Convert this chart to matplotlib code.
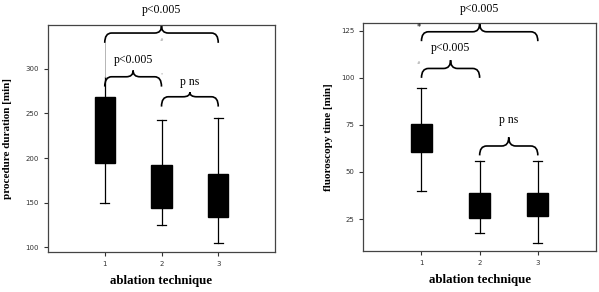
import matplotlib
matplotlib.use("Agg")
import matplotlib.pyplot as plt
from matplotlib.path import Path
from matplotlib.patches import PathPatch

# datos
grupos = [1, 2, 3]

# duracion del procedimiento [min]
dur_q1 = [194.7, 144.3, 133.9]
dur_q3 = [268.6, 192.2, 182.4]
dur_lo = [149.6, 124.5, 104.4]
dur_hi = [291.0, 242.5, 244.4]

# tiempo de fluoroscopia [min]
flu_q1 = [60.5, 25.4, 26.5]
flu_q3 = [75.5, 38.9, 38.9]
flu_lo = [39.8, 17.8, 12.0]
flu_hi = [94.4, 55.7, 55.7]

# llaves de significancia: (desde, hasta, nivel, texto)
dur_llaves = [(1, 3, 340, "p<0.005"), (1, 2, 291, "p<0.005"), (2, 3, 268.6, "p ns")]
flu_llaves = [(1, 3, 124.5, "p<0.005"), (1, 2, 105, "p<0.005"), (2, 3, 63.8, "p ns")]

serif = "Liberation Serif"


def stats(q1, q3, lo, hi):
    out = []
    for i in range(len(q1)):
        out.append({"med": (q1[i] + q3[i]) / 2, "q1": q1[i], "q3": q3[i],
                    "whislo": lo[i], "whishi": hi[i], "fliers": []})
    return out


def llave(ax, x0, x1, yb, curl, peak, txt, ytxt, r=0.12):
    xm = (x0 + x1) / 2
    ye = yb - curl
    yp = yb + peak
    verts = [(x0, ye), (x0, yb), (x0 + r, yb), (xm - r, yb), (xm, yb), (xm, yp),
             (xm, yb), (xm + r, yb), (x1 - r, yb), (x1, yb), (x1, ye)]
    codes = [Path.MOVETO, Path.CURVE3, Path.CURVE3, Path.LINETO, Path.CURVE3, Path.CURVE3,
             Path.CURVE3, Path.CURVE3, Path.LINETO, Path.CURVE3, Path.CURVE3]
    ax.add_patch(PathPatch(Path(verts, codes), fill=False, lw=1.2, color="black", clip_on=False))
    ax.text(xm, ytxt, txt, ha="center", va="center", fontsize=8.5, family=serif, clip_on=False)


def panel(ax, st, ylim, yticks, ylabel, ylx):
    res = ax.bxp(st, positions=grupos, widths=0.36, patch_artist=True, showfliers=False,
                 boxprops=dict(facecolor="black", edgecolor="black"),
                 medianprops=dict(color="black"),
                 whiskerprops=dict(color="black", lw=0.9),
                 capprops=dict(color="black", lw=0.9), capwidths=0.15)
    ax.set_xlim(0, 4)
    ax.set_ylim(*ylim)
    ax.set_yticks(yticks)
    ax.set_xticks(grupos)
    ax.tick_params(labelsize=5, colors="#333333", length=3, width=0.8)
    for s in ax.spines.values():
        s.set_color("#444444")
        s.set_linewidth(0.9)
    ax.set_xlabel("ablation technique", family=serif, weight="bold", fontsize=9.3)
    ax.xaxis.set_label_coords(0.5, -0.1)
    ax.set_ylabel(ylabel, family=serif, weight="bold", fontsize=8)
    ax.yaxis.set_label_coords(ylx, 0.5)
    return res


fig = plt.figure(figsize=(5.99, 2.92), dpi=100)

ax1 = fig.add_axes([48 / 599, 40 / 292, 227 / 599, 227 / 292])
r1 = panel(ax1, stats(dur_q1, dur_q3, dur_lo, dur_hi), (94.7, 349), [100, 150, 200, 250, 300],
           "procedure duration [min]", -0.16)
r1["caps"][1].set_visible(False)
ax1.plot([1, 1], [dur_hi[0], 329], color="#aaaaaa", lw=0.6)
d = dur_llaves
llave(ax1, d[0][0], d[0][1], d[0][2], 11, 8, d[0][3], 366)
llave(ax1, d[1][0], d[1][1], d[1][2], 11, 7, d[1][3], 310)
llave(ax1, d[2][0], d[2][1], d[2][2], 11, 5, d[2][3], 285)
ax1.text(2, 332, "#", fontsize=3, color="#888888", ha="center", va="center")
ax1.text(2, 294, "*", fontsize=3, color="#888888", ha="center", va="center")

ax2 = fig.add_axes([363.3 / 599, 41 / 292, 232.7 / 599, 227.7 / 292])
panel(ax2, stats(flu_q1, flu_q3, flu_lo, flu_hi), (8, 129), [25, 50, 75, 100, 125],
      "fluoroscopy time [min]", -0.13)
f = flu_llaves
llave(ax2, f[0][0], f[0][1], f[0][2], 5, 4.4, f[0][3], 136.5)
llave(ax2, f[1][0], f[1][1], f[1][2], 5, 4.4, f[1][3], 116)
llave(ax2, f[2][0], f[2][1], f[2][2], 5, 4.6, f[2][3], 77.6)
ax2.text(0.95, 127, "*", fontsize=6, color="black", ha="center", va="center", clip_on=False)
ax2.text(0.95, 108, "#", fontsize=3, color="#888888", ha="center", va="center")

fig.savefig("out.png", dpi=100)
